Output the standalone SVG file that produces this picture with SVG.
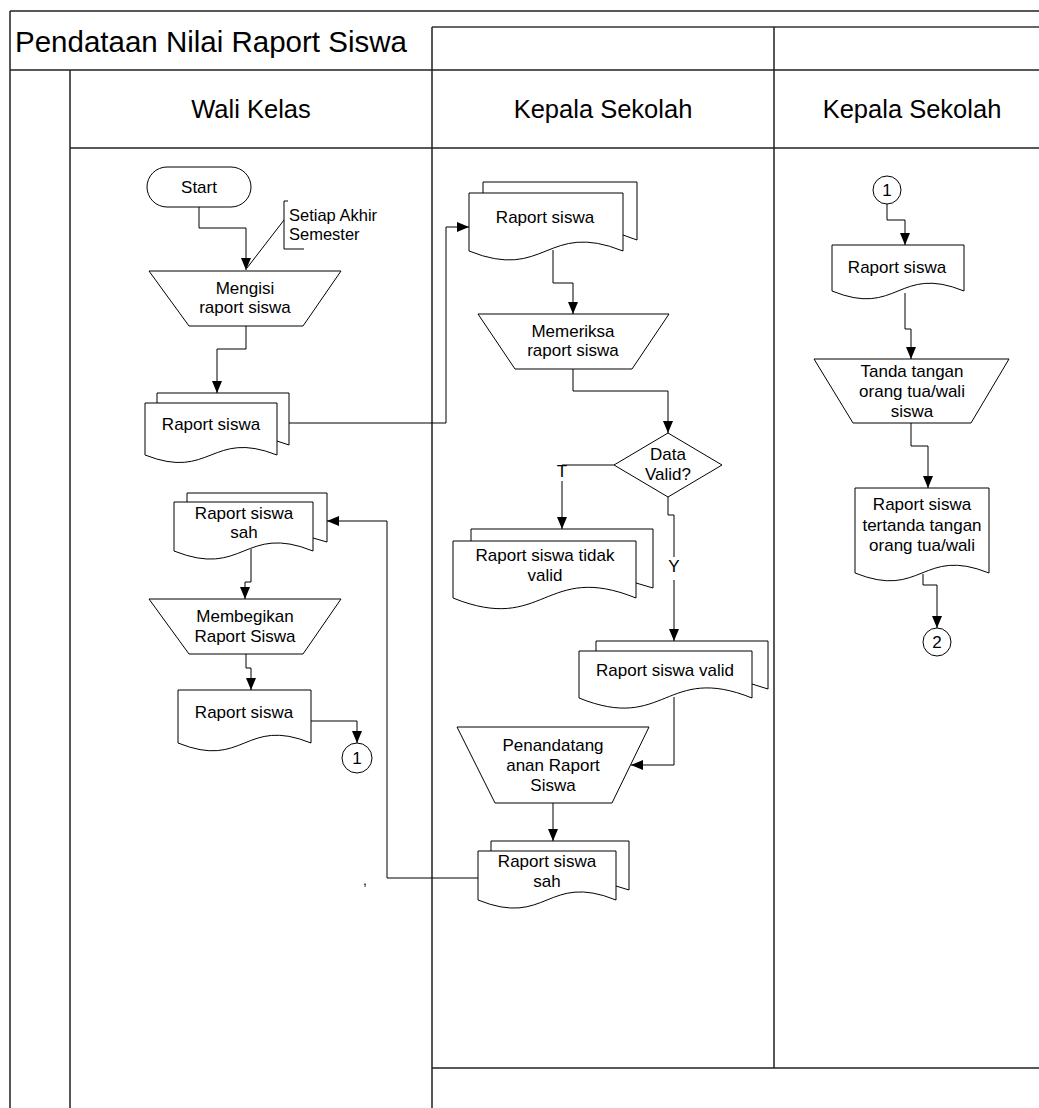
<svg xmlns="http://www.w3.org/2000/svg" width="1039" height="1108" viewBox="0 0 1039 1108">
  <style>
    text { font-family: "Liberation Sans", Arial, sans-serif; fill: #000; }
    .lane { fill: none; stroke: #222; stroke-width: 1.5; }
    .lane-soft { fill: none; stroke: #666; stroke-width: 2; }
    .shape { fill: #fff; stroke: #000; stroke-width: 1; }
    .conn { fill: none; stroke: #000; stroke-width: 1; }
    .arrow { marker-end: url(#head); }
    .lbl { font-size: 17px; text-anchor: middle; }
    .note { font-size: 16.5px; }
    .title { font-size: 29.5px; }
    .head { font-size: 25.5px; text-anchor: middle; }
  </style>
  <defs>
    <marker id="head" viewBox="0 0 12 10" refX="12" refY="5" markerWidth="12" markerHeight="10" markerUnits="userSpaceOnUse" orient="auto">
      <path d="M0,0 L12,5 L0,10 Z" fill="#000"/>
    </marker>
  </defs>
  <rect width="1039" height="1108" fill="#fff"/>

  <!-- swimlane frame -->
  <g id="lanes">
    <path class="lane" d="M10,11 H1039 M10,11 V1108 M10,70 H1039 M70,70 V1108 M70,148 H1039"/>
    <path class="lane-soft" d="M432,27 H1039"/>
    <path class="lane" d="M432,27 V1108 M774,27 V1068 M432,1068 H1039"/>
    <text class="title" x="15" y="52">Pendataan Nilai Raport Siswa</text>
    <text class="head" x="251" y="118">Wali Kelas</text>
    <text class="head" x="603" y="118">Kepala Sekolah</text>
    <text class="head" x="912" y="118">Kepala Sekolah</text>
  </g>

  <!-- connectors -->
  <g id="connectors">
    <path class="conn arrow" d="M199,207 V228 H246 V270"/>
    <path class="conn" d="M288,201 H284 V249 H304 M284,220 L247,268"/>
    <path class="conn arrow" d="M246,326 V349 H217 V393"/>
    <path class="conn arrow" d="M289,423 H446 V227 H469"/>
    <path class="conn arrow" d="M553,250 V283 H573 V314"/>
    <path class="conn arrow" d="M573,369 V391 H668 V433"/>
    <path class="conn" d="M614,465 H562"/>
    <path class="conn arrow" d="M562,481 V529"/>
    <path class="conn" d="M668,497 V515 H674 V557"/>
    <path class="conn arrow" d="M674,580 V641"/>
    <path class="conn arrow" d="M674,697 V765 H631"/>
    <path class="conn arrow" d="M553,803 V841"/>
    <path class="conn arrow" d="M478,878 H387 V521 H327"/>
    <path class="conn arrow" d="M251,549 V582 H245 V599"/>
    <path class="conn arrow" d="M246,654 V668 H251 V690"/>
    <path class="conn arrow" d="M311,721 H357 V743"/>
    <path class="conn arrow" d="M887,204 V220 H905 V245"/>
    <path class="conn arrow" d="M905,293 V329 H911 V359"/>
    <path class="conn arrow" d="M911,423 V446 H928 V488"/>
    <path class="conn arrow" d="M923,574 V585 H937 V628"/>
    <text class="lbl" x="562" y="477">T</text>
    <text class="lbl" x="674" y="572">Y</text>
    <text x="363" y="885" style="font-size:14px">,</text>
  </g>

  <!-- Wali Kelas lane -->
  <g id="start">
    <rect class="shape" x="147" y="167" width="104" height="40" rx="20" ry="20"/>
    <text class="lbl" x="199" y="193">Start</text>
  </g>
  <g id="note-semester">
    <text class="note" x="289" y="221">Setiap Akhir</text>
    <text class="note" x="289" y="240">Semester</text>
  </g>
  <g id="mengisi">
    <polygon class="shape" points="149,271 341,271 303,326 189,326"/>
    <text class="lbl" x="245" y="294">Mengisi</text>
    <text class="lbl" x="245" y="313">raport siswa</text>
  </g>
  <g id="doc-raport-wali">
    <path class="shape" d="M157,403 V393 H289 V445 L277,441"/>
    <path class="shape" d="M145,403 H277 V455 C211,429 211,481 145,455 Z"/>
    <text class="lbl" x="211" y="430">Raport siswa</text>
  </g>
  <g id="doc-sah-wali">
    <path class="shape" d="M187,502 V493 H327 V542 L313,538"/>
    <path class="shape" d="M174,502 H313 V551 C244,523 244,579 174,551 Z"/>
    <text class="lbl" x="244" y="519">Raport siswa</text>
    <text class="lbl" x="244" y="538">sah</text>
  </g>
  <g id="membegikan">
    <polygon class="shape" points="149,599 341,599 303,654 189,654"/>
    <text class="lbl" x="245" y="622">Membegikan</text>
    <text class="lbl" x="245" y="642">Raport Siswa</text>
  </g>
  <g id="doc-raport-out">
    <path class="shape" d="M178,690 H311 V743 C244.5,716 244.5,770 178,743 Z"/>
    <text class="lbl" x="244" y="718">Raport siswa</text>
  </g>
  <g id="conn-1-out">
    <circle class="shape" cx="357" cy="758" r="15"/>
    <text class="lbl" x="357" y="764">1</text>
  </g>

  <!-- Kepala Sekolah lane (middle) -->
  <g id="doc-raport-ks">
    <path class="shape" d="M483,193 V182 H637 V240 L623,235"/>
    <path class="shape" d="M469,193 H623 V251 C546,220 546,282 469,251 Z"/>
    <text class="lbl" x="545" y="223">Raport siswa</text>
  </g>
  <g id="memeriksa">
    <polygon class="shape" points="478,314 669,314 632,369 515,369"/>
    <text class="lbl" x="573" y="337">Memeriksa</text>
    <text class="lbl" x="573" y="356">raport siswa</text>
  </g>
  <g id="data-valid">
    <polygon class="shape" points="668,433 722,465 668,497 614,465"/>
    <text class="lbl" x="668" y="460">Data</text>
    <text class="lbl" x="668" y="480">Valid?</text>
  </g>
  <g id="doc-tidak-valid">
    <path class="shape" d="M471,541 V529 H653 V588 L636,583"/>
    <path class="shape" d="M453,541 H636 V598 C544.5,561 544.5,635 453,598 Z"/>
    <text class="lbl" x="545" y="561">Raport siswa tidak</text>
    <text class="lbl" x="545" y="581">valid</text>
  </g>
  <g id="doc-valid">
    <path class="shape" d="M596,651 V641 H768 V689 L752,684"/>
    <path class="shape" d="M579,651 H752 V698 C665.5,663 665.5,733 579,698 Z"/>
    <text class="lbl" x="665" y="676">Raport siswa valid</text>
  </g>
  <g id="penandatanganan">
    <polygon class="shape" points="457,727 649,727 612,803 495,803"/>
    <text class="lbl" x="553" y="751">Penandatang</text>
    <text class="lbl" x="553" y="771">anan Raport</text>
    <text class="lbl" x="553" y="791">Siswa</text>
  </g>
  <g id="doc-sah-ks">
    <path class="shape" d="M491,851 V841 H629 V890 L616,886"/>
    <path class="shape" d="M478,851 H616 V900 C547,872 547,928 478,900 Z"/>
    <text class="lbl" x="547" y="867">Raport siswa</text>
    <text class="lbl" x="547" y="887">sah</text>
  </g>

  <!-- Kepala Sekolah lane (right) -->
  <g id="conn-1-in">
    <circle class="shape" cx="887" cy="190" r="14"/>
    <text class="lbl" x="887" y="196">1</text>
  </g>
  <g id="doc-raport-ortu">
    <path class="shape" d="M832,245 H964 V291 C898,264 898,318 832,291 Z"/>
    <text class="lbl" x="897" y="273">Raport siswa</text>
  </g>
  <g id="tanda-tangan">
    <polygon class="shape" points="814,359 1009,359 971,423 853,423"/>
    <text class="lbl" x="912" y="377">Tanda tangan</text>
    <text class="lbl" x="912" y="397">orang tua/wali</text>
    <text class="lbl" x="912" y="417">siswa</text>
  </g>
  <g id="doc-tertanda">
    <path class="shape" d="M855,488 H989 V573 C922,546 922,600 855,573 Z"/>
    <text class="lbl" x="922" y="510">Raport siswa</text>
    <text class="lbl" x="922" y="531">tertanda tangan</text>
    <text class="lbl" x="922" y="551">orang tua/wali</text>
  </g>
  <g id="conn-2">
    <circle class="shape" cx="937" cy="642" r="14"/>
    <text class="lbl" x="937" y="648">2</text>
  </g>
</svg>
